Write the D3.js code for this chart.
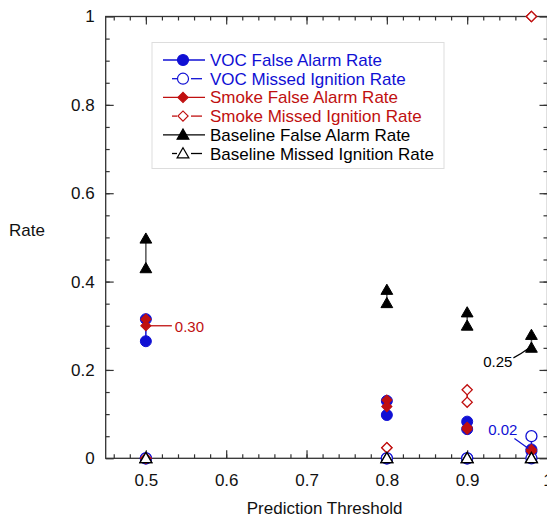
<!DOCTYPE html>
<html>
<head>
<meta charset="utf-8">
<script src="https://cdn.jsdelivr.net/npm/d3@7"></script>
<style>
  body { margin: 0; background: #fff; }
  svg { display: block; font-family: "Liberation Sans", Arial, sans-serif; }
</style>
</head>
<body>
<svg id="chart" width="547" height="521"></svg>
<script>
// thresholds on the x axis
var thresholds = [0.5, 0.8, 0.9, 0.98];

// each entry: [first run, second run] at that threshold
var vocFalseAlarm      = [[0.315, 0.265], [0.130, 0.098], [0.083, 0.066], [0.020, 0.016]];
var vocMissed          = [[0, 0], [0, 0], [0, 0], [0.05, 0]];
var smokeFalseAlarm    = [[0.315, 0.30], [0.132, 0.117], [0.070, 0.066], [0.020, 0.016]];
var smokeMissed        = [[0, 0], [0.024, 0.024], [0.155, 0.127], [1.0, 1.0]];
var baselineFalseAlarm = [[0.497, 0.430], [0.381, 0.351], [0.330, 0.300], [0.279, 0.250]];
var baselineMissed     = [[0, 0], [0, 0], [0, 0], [0, 0]];

var xTicks = [0.5, 0.6, 0.7, 0.8, 0.9, 1];
var yTicks = [0, 0.2, 0.4, 0.6, 0.8, 1];

var blue = "#1010d4", red = "#c01010", black = "#000";

var series = [
  {name: "VOC False Alarm Rate", data: vocFalseAlarm, color: blue, line: blue, shape: "circle", fill: true},
  {name: "VOC Missed Ignition Rate", data: vocMissed, color: blue, line: blue, shape: "circle", fill: false},
  {name: "Smoke False Alarm Rate", data: smokeFalseAlarm, color: red, line: red, shape: "diamond", fill: true},
  {name: "Smoke Missed Ignition Rate", data: smokeMissed, color: red, line: red, shape: "diamond", fill: false},
  {name: "Baseline False Alarm Rate", data: baselineFalseAlarm, color: black, line: "#555", shape: "triangle", fill: true},
  {name: "Baseline Missed Ignition Rate", data: baselineMissed, color: black, line: "#555", shape: "triangle", fill: false}
];

var svg = d3.select("#chart");
var plotLeft = 105.7, plotRight = 547.5, plotTop = 16.5, plotBottom = 458.3;

var x = d3.scaleLinear().domain([0.45, 1.0]).range([plotLeft, plotRight]);
var y = d3.scaleLinear().domain([0, 1]).range([plotBottom, plotTop]);

var symbols = {
  circle: d3.symbol().type(d3.symbolCircle).size(95),
  diamond: d3.symbol().type(d3.symbolSquare).size(52),
  triangle: d3.symbol().type(d3.symbolTriangle).size(60)
};
// extra transform per shape: nudge triangles, turn squares into diamonds
function shapeTf(shape) {
  if (shape === "triangle") return " translate(0,1)";
  if (shape === "diamond") return " rotate(45)";
  return "";
}

var axisColor = "#333";

// frame + ticks (inward)
function styleAxis(g) {
  g.select(".domain").remove();
  g.selectAll("line").attr("stroke", axisColor).attr("stroke-width", 1.2);
  g.selectAll("text").attr("font-size", 17).attr("fill", "#111");
}

var minorX = d3.range(0.46, 0.995, 0.02);
var minorY = d3.range(0.05, 0.99, 0.05);

svg.append("g").attr("transform", "translate(0," + plotBottom + ")")
  .call(d3.axisBottom(x).tickValues(minorX).tickSize(-4).tickFormat(""))
  .call(styleAxis);
svg.append("g").attr("transform", "translate(0," + plotBottom + ")")
  .call(d3.axisBottom(x).tickValues(xTicks).tickSize(-8).tickPadding(16).tickFormat(d3.format("")))
  .call(styleAxis);
svg.append("g").attr("transform", "translate(0," + plotTop + ")")
  .call(d3.axisTop(x).tickValues(minorX).tickSize(-4).tickFormat(""))
  .call(styleAxis);
svg.append("g").attr("transform", "translate(0," + plotTop + ")")
  .call(d3.axisTop(x).tickValues(xTicks).tickSize(-8).tickFormat(""))
  .call(styleAxis);

svg.append("g").attr("transform", "translate(" + plotLeft + ",0)")
  .call(d3.axisLeft(y).tickValues(minorY).tickSize(-4).tickFormat(""))
  .call(styleAxis);
svg.append("g").attr("transform", "translate(" + plotLeft + ",0)")
  .call(d3.axisLeft(y).tickValues(yTicks).tickSize(-8).tickPadding(11).tickFormat(d3.format("")))
  .call(styleAxis);
svg.append("g").attr("transform", "translate(" + plotRight + ",0)")
  .call(d3.axisRight(y).tickValues(minorY).tickSize(-4).tickFormat(""))
  .call(styleAxis);
svg.append("g").attr("transform", "translate(" + plotRight + ",0)")
  .call(d3.axisRight(y).tickValues(yTicks).tickSize(-8).tickFormat(""))
  .call(styleAxis);

svg.append("rect")
  .attr("x", plotLeft).attr("y", plotTop)
  .attr("width", plotRight - plotLeft).attr("height", plotBottom - plotTop)
  .attr("fill", "none").attr("stroke", axisColor).attr("stroke-width", 1.3);

// axis titles
svg.append("text").attr("x", (plotLeft + plotRight) / 2 - 2).attr("y", 514)
  .attr("text-anchor", "middle").attr("font-size", 17).attr("fill", "#111")
  .text("Prediction Threshold");
svg.append("text").attr("x", 27).attr("y", 236)
  .attr("text-anchor", "middle").attr("font-size", 17).attr("fill", "#111")
  .text("Rate");

// vertical connectors between the two runs
series.forEach(function(s) {
  svg.append("g").selectAll("line")
    .data(s.data.map(function(d, i) { return {x: thresholds[i], hi: d[0], lo: d[1]}; })
      .filter(function(d) { return d.hi !== d.lo; }))
    .join("line")
    .attr("x1", function(d) { return x(d.x); }).attr("x2", function(d) { return x(d.x); })
    .attr("y1", function(d) { return y(d.hi); }).attr("y2", function(d) { return y(d.lo); })
    .attr("stroke", s.line).attr("stroke-width", 1.5);
});

// markers
series.forEach(function(s) {
  var pts = [];
  s.data.forEach(function(d, i) { pts.push([thresholds[i], d[0]], [thresholds[i], d[1]]); });
  svg.append("g").selectAll("path")
    .data(pts)
    .join("path")
    .attr("d", symbols[s.shape])
    .attr("transform", function(d) {
      return "translate(" + x(d[0]) + "," + y(d[1]) + ")" + shapeTf(s.shape);
    })
    .attr("fill", s.fill ? s.color : "#fff")
    .attr("stroke", s.color)
    .attr("stroke-width", s.fill ? 1 : 1.3);
});

// annotations
svg.append("line")
  .attr("x1", x(0.5) + 4).attr("x2", x(0.5) + 26)
  .attr("y1", y(0.30)).attr("y2", y(0.30))
  .attr("stroke", red).attr("stroke-width", 1.3);
svg.append("text").attr("x", x(0.5) + 29).attr("y", y(0.30) + 6)
  .attr("font-size", 15).attr("fill", red).text("0.30");

svg.append("path")
  .attr("d", "M" + (x(0.98) - 18) + "," + (y(0.25) + 10) +
    " Q" + (x(0.98) - 10) + "," + (y(0.25) + 6) + " " + (x(0.98) - 2) + "," + y(0.25))
  .attr("fill", "none").attr("stroke", black).attr("stroke-width", 1.2);
svg.append("text").attr("x", x(0.98) - 19).attr("y", y(0.25) + 19)
  .attr("text-anchor", "end").attr("font-size", 15).attr("fill", black).text("0.25");

svg.append("line")
  .attr("x1", x(0.98) - 17).attr("y1", y(0.02) - 11)
  .attr("x2", x(0.98) - 3).attr("y2", y(0.02) - 1)
  .attr("stroke", blue).attr("stroke-width", 1.2);
svg.append("text").attr("x", x(0.98) - 14).attr("y", y(0.02) - 14)
  .attr("text-anchor", "end").attr("font-size", 15).attr("fill", blue).text("0.02");

// legend
var legend = svg.append("g");
legend.append("rect")
  .attr("x", 152).attr("y", 42.5).attr("width", 292).attr("height", 126)
  .attr("fill", "#fff").attr("stroke", "#ddd").attr("stroke-width", 1);

var rows = legend.selectAll("g.row").data(series).join("g")
  .attr("class", "row")
  .attr("transform", function(d, i) { return "translate(0," + (60 + i * 18.7) + ")"; });

rows.each(function(s) {
  var g = d3.select(this);
  if (s.fill) {
    g.append("line").attr("x1", 163).attr("x2", 205).attr("y1", 0).attr("y2", 0)
      .attr("stroke", s.color).attr("stroke-width", 1.3);
  } else {
    g.append("line").attr("x1", 172).attr("x2", 177).attr("y1", 0).attr("y2", 0)
      .attr("stroke", s.color).attr("stroke-width", 1.3);
    g.append("line").attr("x1", 191).attr("x2", 202).attr("y1", 0).attr("y2", 0)
      .attr("stroke", s.color).attr("stroke-width", 1.3);
  }
  g.append("path").attr("d", symbols[s.shape])
    .attr("transform", "translate(183,0)" + shapeTf(s.shape))
    .attr("fill", s.fill ? s.color : "#fff")
    .attr("stroke", s.color).attr("stroke-width", 1.2);
  g.append("text").attr("x", 210).attr("y", 6)
    .attr("font-size", 17).attr("fill", s.color).text(s.name);
});
</script>
</body>
</html>
